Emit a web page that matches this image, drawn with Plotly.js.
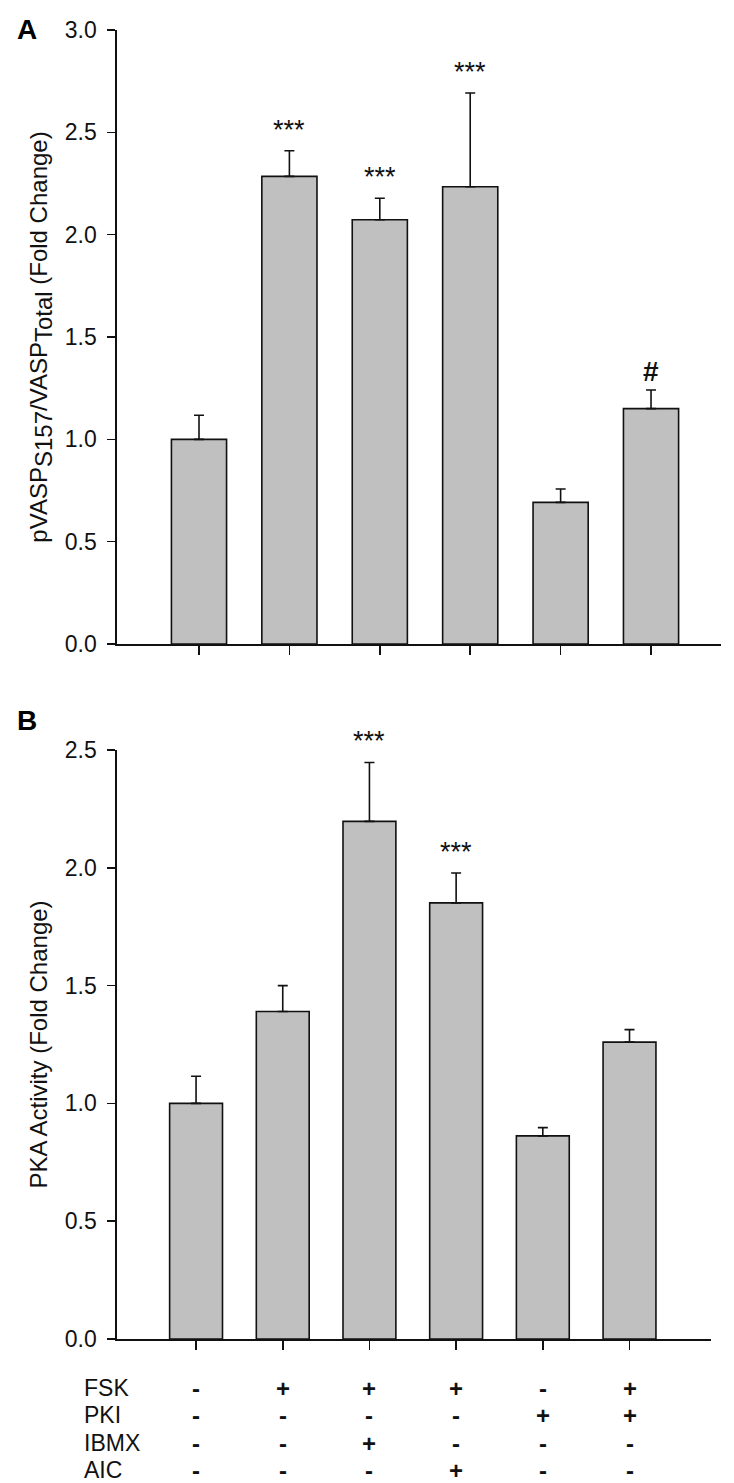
<!DOCTYPE html>
<html><head><meta charset="utf-8">
<script src="https://cdn.plot.ly/plotly-3.0.1.min.js"></script>
<style>html,body{margin:0;padding:0;background:#fff}</style>
</head><body><div id="chart" style="width:734px;height:1483px"></div>
<script>
// ---- data ----
const categories = ["Control", "FSK", "FSK+IBMX", "FSK+AIC", "PKI", "FSK+PKI"];
const vaspMean = [1.00, 2.285, 2.073, 2.234, 0.692, 1.150];
const vaspErr  = [0.118, 0.125, 0.105, 0.458, 0.065, 0.091];
const vaspSig  = ["", "***", "***", "***", "", "#"];
const pkaMean  = [1.00, 1.39, 2.197, 1.851, 0.862, 1.26];
const pkaErr   = [0.115, 0.11, 0.25, 0.127, 0.035, 0.053];
const pkaSig   = ["", "", "***", "***", "", ""];
const rowLabels = ["FSK", "PKI", "IBMX", "AIC"];
const rowFSK  = ["-", "+", "+", "+", "-", "+"];
const rowPKI  = ["-", "-", "-", "-", "+", "+"];
const rowIBMX = ["-", "-", "+", "-", "-", "-"];
const rowAIC  = ["-", "-", "-", "+", "-", "-"];
const yTicksA = [0, 0.5, 1.0, 1.5, 2.0, 2.5, 3.0];
const yTicksB = [0, 0.5, 1.0, 1.5, 2.0, 2.5];

// ---- layout constants ----
const W = 734, H = 1483, L = 117;
const FONT = "Liberation Sans, Arial, sans-serif";
const idx = categories.map((c, i) => i);
const fy = py => (H - py) / H;            // page pixel -> paper y
const fx = px => (px - L) / (W - L);      // page pixel -> paper x

function barTrace(vals, errs, xa, ya, name) {
  return {
    type: "bar", name: name, x: idx, y: vals, xaxis: xa, yaxis: ya, width: 0.61,
    text: categories, textposition: "none",
    marker: {color: "#c0c0c0", line: {color: "#111", width: 1.6}},
    error_y: {type: "data", array: errs, arrayminus: errs.map(() => 0), symmetric: false,
              color: "#111", thickness: 1.6, width: 5},
    showlegend: false, hoverinfo: "skip"
  };
}

const data = [barTrace(vaspMean, vaspErr, "x", "y", "pVASP"), barTrace(pkaMean, pkaErr, "x2", "y2", "PKA")];

const axisY = {
  showline: true, linecolor: "#111", linewidth: 1.6, ticks: "outside", ticklen: 8, tickwidth: 1.6,
  tickcolor: "#111", showgrid: false, zeroline: false, tickformat: ".1f",
  tickfont: {family: FONT, size: 23, color: "#111"}, ticklabelstandoff: 6
};
const axisX = {
  showline: true, linecolor: "#111", linewidth: 1.6, ticks: "outside", ticklen: 9, tickwidth: 1.6,
  tickcolor: "#111", showgrid: false, zeroline: false, showticklabels: false,
  tickmode: "array", tickvals: idx
};

const annotations = [];
// panel letters
annotations.push({xref: "paper", yref: "paper", x: fx(27), y: fy(30), text: "<b>A</b>", showarrow: false,
  xanchor: "center", yanchor: "middle", font: {family: FONT, size: 28, color: "#000"}});
annotations.push({xref: "paper", yref: "paper", x: fx(27), y: fy(720), text: "<b>B</b>", showarrow: false,
  xanchor: "center", yanchor: "middle", font: {family: FONT, size: 28, color: "#000"}});
// significance marks
function sig(marks, vals, errs, xa, ya) {
  marks.forEach((m, i) => {
    if (!m) return;
    const hash = m === "#";
    annotations.push({xref: xa, yref: ya, x: i, y: vals[i] + errs[i], text: hash ? "<b>#</b>" : m,
      showarrow: false, xanchor: "center", yanchor: "bottom", yshift: hash ? 1 : 4,
      font: {family: FONT, size: hash ? 28 : 27, color: "#111"}});
  });
}
sig(vaspSig, vaspMean, vaspErr, "x", "y");
sig(pkaSig, pkaMean, pkaErr, "x2", "y2");
// treatment table
const rows = [rowFSK, rowPKI, rowIBMX, rowAIC];
const rowPy = [1388, 1415, 1443, 1470];
rows.forEach((r, k) => {
  annotations.push({xref: "paper", yref: "paper", x: fx(82), y: fy(rowPy[k]), text: rowLabels[k],
    showarrow: false, xanchor: "left", yanchor: "middle", font: {family: FONT, size: 23, color: "#111"}});
  r.forEach((s, i) => {
    annotations.push({xref: "x2", yref: "paper", x: i, y: fy(rowPy[k]), text: "<b>" + s + "</b>",
      showarrow: false, xanchor: "center", yanchor: "middle", font: {family: FONT, size: 24, color: "#111"}});
  });
});

const layout = {
  width: W, height: H, margin: {l: L, r: 0, t: 0, b: 0},
  paper_bgcolor: "#fff", plot_bgcolor: "#fff",
  font: {family: FONT, color: "#111"},
  showlegend: false, bargap: 0.39,
  xaxis: Object.assign({}, axisX, {domain: [0, fx(721)], range: [-0.907, 5.774], anchor: "y"}),
  yaxis: Object.assign({}, axisY, {domain: [fy(644), fy(30)], range: [0, 3.0], tickvals: yTicksA, anchor: "x",
    title: {text: "pVASP<sub><span style=\"font-size:24px\">S157</span></sub>/VASP<sub><span style=\"font-size:24px\">Total</span></sub> (Fold Change)",
            font: {family: FONT, size: 24, color: "#111"}, standoff: 10}}),
  xaxis2: Object.assign({}, axisX, {domain: [0, fx(711)], range: [-0.912, 5.94], anchor: "y2"}),
  yaxis2: Object.assign({}, axisY, {domain: [fy(1339), fy(750)], range: [0, 2.5], tickvals: yTicksB, anchor: "x2",
    title: {text: "PKA Activity (Fold Change)", font: {family: FONT, size: 24, color: "#111"}, standoff: 10}}),
  annotations: annotations
};

Plotly.newPlot("chart", data, layout, {staticPlot: true, displayModeBar: false});
</script>
</body></html>
